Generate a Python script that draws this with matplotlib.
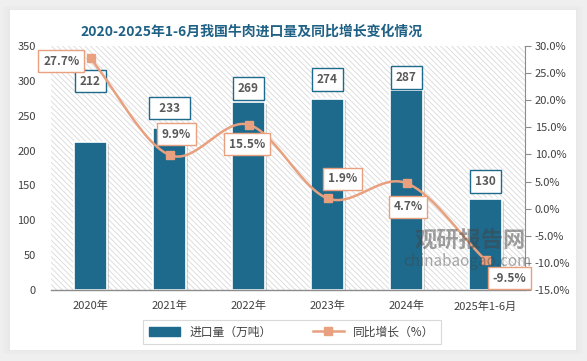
import numpy as np
import matplotlib
matplotlib.use('Agg')
import matplotlib.pyplot as plt
from matplotlib.patches import Rectangle
from matplotlib.lines import Line2D
import matplotlib.patheffects as pe

plt.rcParams['font.family'] = ['Noto Sans CJK SC', 'DejaVu Sans']
plt.rcParams['hatch.linewidth'] = 0.6
plt.rcParams['hatch.color'] = '#d9d9d9'

# data
years = ['2020年', '2021年', '2022年', '2023年', '2024年', '2025年1-6月']
imports = [212, 233, 269, 274, 287, 130]
growth = [27.7, 9.9, 15.5, 1.9, 4.7, -9.5]

# label offsets in points (layout only)
bar_lbl_off = [(0, 44), (0, 14), (0, 10), (0, 14), (0, 9), (0, 13)]
line_lbl_off = [(-21, -2), (5, 15), (-1, -14), (11, 14), (1, -17), (17, -13)]

bar_color = '#1d6a8d'
line_color = '#e8a07e'
text_gray = '#595959'

fig = plt.figure(figsize=(5.87, 3.61), dpi=100)
fig.patch.set_facecolor('#efefef')

# white card with soft shadow
for i, a in enumerate([0.03, 0.04, 0.05]):
    d = (3 - i) * 0.004
    fig.patches.append(Rectangle((10/587 - d, 11/361 - d), 566/587 + 2*d, 340/361 + 2*d,
                                 transform=fig.transFigure, facecolor='#bfbfbf', alpha=a,
                                 edgecolor='none', zorder=-2))
fig.patches.append(Rectangle((10/587, 11/361), 566/587, 340/361, transform=fig.transFigure,
                             facecolor='white', edgecolor='none', zorder=-1))

ax = fig.add_axes([51/587, 71/361, 474/587, 244/361])
ax.set_zorder(1)
ax.set_facecolor('none')
ax.add_patch(Rectangle((0, 0), 1, 1, transform=ax.transAxes, facecolor='white',
                       edgecolor='#d9d9d9', hatch='\\\\\\\\\\\\', lw=0, zorder=0))

x = np.arange(len(years))
bars = ax.bar(x, imports, width=0.42, color=bar_color, edgecolor='white', linewidth=1.2, zorder=2)
for b in bars:
    b.set_path_effects([pe.SimplePatchShadow(offset=(1.5, -1), shadow_rgbFace='#888888', alpha=0.35),
                        pe.Normal()])

ax.set_xlim(-0.5, len(years) - 0.5)
ax.set_ylim(0, 350)
ax.set_yticks(np.arange(0, 351, 50))
ax.set_xticks(x)
ax.set_xticklabels(years)
for s in ['top', 'left', 'right']:
    ax.spines[s].set_visible(False)
ax.spines['bottom'].set_color('#8c8c8c')
ax.spines['bottom'].set_linewidth(1)
ax.tick_params(axis='y', length=0, labelsize=8, labelcolor='#404040', pad=11)
ax.tick_params(axis='x', length=0, labelsize=8, labelcolor='#404040', pad=8)

for xi, v, off in zip(x, imports, bar_lbl_off):
    lbl = f'  {v}  ' if v == 233 else str(v)
    ax.annotate(lbl, (xi, v), xytext=off, textcoords='offset points', ha='center', va='center',
                fontsize=8.5, fontweight='bold', color=text_gray, zorder=6,
                bbox=dict(boxstyle='square,pad=0.4', fc='white', ec=bar_color, lw=1))

# right axis
ax2 = ax.twinx()
ax2.set_zorder(2)
ax2.set_facecolor('none')
ax2.set_ylim(-15, 30)
ax2.set_yticks(np.arange(-15, 31, 5))
ax2.set_yticklabels([f'{t:.1f}%' for t in np.arange(-15, 31, 5)])
for s in ['top', 'left', 'bottom']:
    ax2.spines[s].set_visible(False)
ax2.spines['right'].set_color('#8c8c8c')
ax2.tick_params(axis='y', length=4, color='#8c8c8c', labelsize=8, labelcolor='#404040', pad=3)


def catmull(xs, ys, n=30):
    px = np.concatenate([[2*xs[0]-xs[1]], xs, [2*xs[-1]-xs[-2]]])
    py = np.concatenate([[2*ys[0]-ys[1]], ys, [2*ys[-1]-ys[-2]]])
    ox, oy = [], []
    t = np.linspace(0, 1, n)
    for i in range(1, len(px) - 2):
        for p, o in ((px, ox), (py, oy)):
            p0, p1, p2, p3 = p[i-1], p[i], p[i+1], p[i+2]
            o.extend(0.5*((2*p1) + (-p0+p2)*t + (2*p0-5*p1+4*p2-p3)*t**2 + (-p0+3*p1-3*p2+p3)*t**3))
    return np.array(ox), np.array(oy)


sx, sy = catmull(x.astype(float), np.array(growth, dtype=float))
ax2.plot(sx, sy, color=line_color, lw=1.8, zorder=3)
ax2.plot(x, growth, ls='none', marker='s', ms=6, color=line_color, zorder=4)
for xi, v, off in zip(x, growth, line_lbl_off):
    ax2.annotate(f'{v}%', (xi, v), xytext=off, textcoords='offset points', ha='center', va='center',
                 fontsize=8.5, fontweight='bold', color=text_gray, zorder=6,
                 bbox=dict(boxstyle='square,pad=0.4', fc='white', ec=line_color, lw=1))

# watermark
fig.text(470/587, 1 - 241/361, '观研报告网', fontsize=16, fontweight='bold', color='#444444',
         alpha=0.5, ha='center', va='center', zorder=5)
fig.text(467/587, 1 - 261/361, 'chinabaogao.com', fontsize=11, color='#444444',
         alpha=0.45, ha='center', va='center', zorder=5)

fig.text(252/587, 1 - 32/361, '2020-2025年1-6月我国牛肉进口量及同比增长变化情况', fontsize=10,
         fontweight='bold', color='#1f6185', ha='center', va='center')

handles = [Rectangle((0, 0), 1, 1, color=bar_color),
           Line2D([], [], color=line_color, lw=1.8, marker='s', ms=6)]
leg = fig.legend(handles, ['进口量（万吨）', '同比增长（%）'], loc='center',
                 bbox_to_anchor=(292/587, 1 - 332/361), ncol=2, fontsize=8.5, frameon=True,
                 fancybox=False, edgecolor='#d0d0d0', handlelength=2.6, columnspacing=3.5,
                 borderpad=0.5)
leg.get_frame().set_linewidth(0.8)
for t in leg.get_texts():
    t.set_color('#404040')

fig.savefig('out.png', dpi=100, facecolor=fig.get_facecolor())
